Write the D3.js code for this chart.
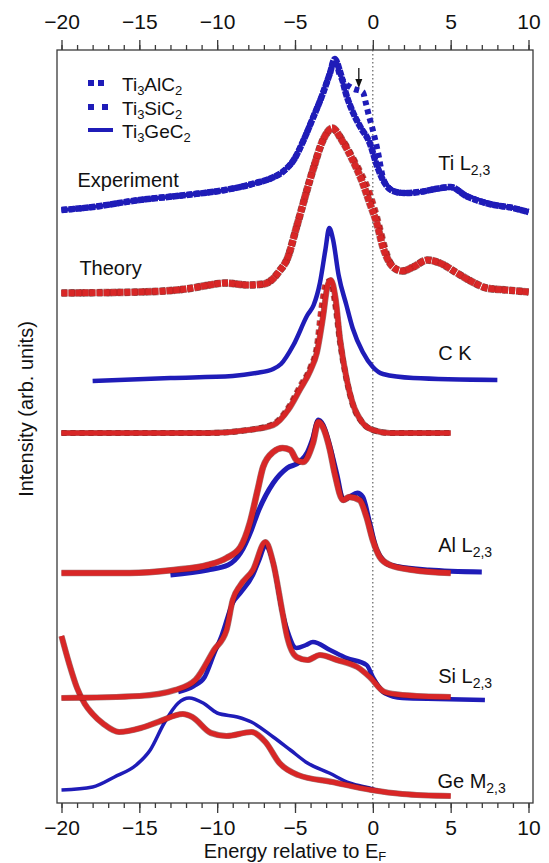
<!DOCTYPE html>
<html>
<head>
<meta charset="utf-8">
<script src="https://cdn.jsdelivr.net/npm/d3@7/dist/d3.min.js"></script>
<style>
body { margin: 0; background: #fff; }
text { font-family: "Liberation Sans", Arial, Helvetica, sans-serif; fill: #111; }
</style>
</head>
<body>
<div id="chart"></div>
<script>
let width = 549;
let height = 863;
let margin = ({top: 50, right: 16, bottom: 60, left: 57});
let pad = 4.5;   // gap between frame and the -20 / 10 ticks

let blue = "#1f1cb8";
let red = "#d82626";

let energyTicks = [-20, -15, -10, -5, 0, 5, 10];
let minorTicks = d3.range(-20, 11, 1);

// ---- Ti L2,3 experiment (blue), intensity above its own baseline
let tiExpOffset = 591;
let tiExpE  = [-20,-18,-15,-12,-9.5,-7.5,-6.5,-5.8,-5.0,-4.5,-3.9,-3.2,-2.75,-2.45,-2.1,-1.7,-1.2,-0.8,-0.2,0.25,0.65,1.3,2.0,3.0,4.0,5.0,6.0,7.5,9.0,10];
let tiExpAl = [2,5,12,17,22,29,34,40,54,70,92,119,139,153,140,117,97,85,69,47,32,21,19,20,23,25,16,8,4,0];
let tiExpGe = [2,5,12,17,22,29,34,40,55,71,94,120,140,150,138,118,98,86,70,48,33,22,19,20,22,24,17,9,4,0];
let tiExpSiE = [-20,-18,-15,-12,-9.5,-7.5,-6.5,-5.8,-5.0,-4.5,-3.9,-3.2,-2.75,-2.45,-2.1,-1.35,-0.65,-0.45,-0.25,-0.05,0.3,0.7,1.3,2.0,3.0,4.0,5.0,6.0,7.5,9.0,10];
let tiExpSi = [2,5,12,17,22,29,34,40,54,70,92,119,139,152,136,124,120,109,96,85,62,32,21,19,20,23,25,16,8,4,0];

// ---- Ti L2,3 theory (red)
let tiThOffset = 511;
let tiThE  = [-20,-15,-12,-10.5,-9.5,-8,-7,-6.5,-6,-5.5,-4.9,-3.85,-3.2,-2.6,-2.0,-1.3,-0.65,-0.2,0.25,0.65,1.3,1.9,2.6,3.5,4.3,5.4,6.4,7.3,8.6,10];
let tiThAl = [-1,0,3,7,9,7,8,12,21,33,65,122,152,164,152,132,109,89,69,45,25,21,25,32,29,19,10,4,2,0];
let tiThSiE = [-20,-15,-12,-10.5,-9.5,-8,-7,-6.5,-6,-5.5,-4.9,-3.85,-3.2,-2.6,-2.0,-1.3,-0.7,-0.35,0,0.4,0.8,1.3,1.9,2.6,3.5,4.3,5.4,6.4,7.3,8.6,10];
let tiThSi = [-1,0,3,7,9,7,8,12,21,33,65,122,152,163,153,134,116,104,88,66,42,25,21,25,32,29,19,10,4,2,0];

// ---- C K
let ckExpOffset = 423;
let ckExpE = [-18,-13,-9,-7.5,-6.4,-5.9,-5.1,-4.2,-3.8,-3.4,-3.05,-2.8,-2.55,-2.2,-1.7,-1.3,-0.65,0,0.65,2.6,8];
let ckExp  = [-1,2,4,7,11,16,35,65,75,97,130,152,140,105,75,52,28,13,6,2,0];
let ckThOffset = 370;
let ckThE  = [-20,-10.5,-8,-6.4,-5.4,-4.7,-4.0,-3.6,-3.2,-2.9,-2.7,-2.4,-2.1,-1.67,-1.3,-0.65,0,1.1,5];
let ckThAl = [0,0,3,8,24,43,63,80,116,148,153,135,93,53,30,10,3,0,0];
let ckThSiE = [-20,-10.5,-8,-6.4,-5.4,-4.7,-4.0,-3.6,-3.3,-3.0,-2.75,-2.45,-2.1,-1.67,-1.3,-0.65,0,1.1,5];
let ckThSi = [0,0,3,9,26,46,66,86,125,150,152,132,90,52,29,10,3,0,0];

// ---- Al L2,3
let alExpOffset = 231;
let alExpE = [-13,-10.6,-9.3,-8.5,-7.8,-7.4,-6.4,-5.5,-4.7,-4.2,-3.85,-3.5,-3.2,-2.75,-2.3,-1.9,-1.5,-1.0,-0.65,-0.2,0.25,1.1,3.6,7];
let alExp  = [-3,2,7,19,42,59,89,104,110,120,134,152,147,125,97,72,75,79,75,49,22,7,2,0];
let alThOffset = 230;
let alThE  = [-20,-15.6,-12.8,-10.6,-9.4,-8.5,-7.9,-7.4,-7.05,-6.4,-5.8,-5.3,-4.9,-4.5,-3.85,-3.5,-2.75,-2.45,-1.9,-1.5,-0.85,-0.4,0,0.45,1.1,2.6,5];
let alTh   = [0,0,3,8,15,26,50,83,106,121,125,123,113,111,130,151,123,100,73,76,73,56,33,16,8,3,0];

// ---- Si L2,3
let siExpOffset = 103;
let siExpE = [-12.5,-11.5,-10.8,-10.2,-9.7,-9.0,-8.5,-7.7,-7.3,-6.9,-6.4,-5.8,-5.5,-4.9,-4.3,-3.85,-2.75,-1.67,-0.4,0,0.75,1.9,4.2,7.2];
let siExp  = [8,14,23,46,65,97,107,125,140,154,137,87,70,52,55,58,50,42,35,23,7,2,1,0];
let siThOffset = 106;
let siThE  = [-20,-15,-12.7,-11.4,-10.2,-9.4,-9.0,-8.5,-7.7,-6.9,-6.4,-5.8,-5.5,-4.9,-4.2,-3.4,-2.3,-1.0,-0.2,0.75,1.9,5];
let siTh   = [-1,1,7,17,47,67,97,112,127,155,134,84,60,40,37,42,37,30,20,5,2,0];

// ---- Ge M2,3
let geExpOffset = 13;
let geExpE = [-20,-18,-16.6,-15.2,-14.3,-13.4,-12.5,-11.8,-10.9,-10.0,-8.7,-7.8,-6.4,-5.3,-4.2,-2.8,-1.5,0,0.4];
let geExp  = [0,3,13,25,40,67,87,92,87,77,73,68,53,40,27,17,7,1,-1];
let geThOffset = 7;
let geThE  = [-20,-19.5,-19,-18.5,-18,-17.3,-16.3,-14.9,-13.8,-12.2,-11.6,-10.4,-9.4,-7.8,-6.9,-6.0,-4.8,-2.6,-0.1,1.9,5];
let geTh   = [160,132,108,92,82,72,64,68,74,82,79,63,60,64,54,33,21,14,6,2,0];

let legendNames = [["Ti", "3", "AlC", "2"], ["Ti", "3", "SiC", "2"], ["Ti", "3", "GeC", "2"]];

// edge labels: [main, subscript, energy, intensity]
let edgeLabels = [
    ["Ti L", "2,3", 4.2, 633],
    ["C K", "", 4.2, 443],
    ["Al L", "2,3", 4.2, 251],
    ["Si L", "2,3", 4.2, 120],
    ["Ge M", "2,3", 4.15, 15]
];

let svg = d3.select("#chart")
    .append("svg")
    .attr("width", width)
    .attr("height", height);

let xScale = d3.scaleLinear()
    .domain([-20, 10])
    .range([margin.left + pad, width - margin.right - pad]);

let yScale = d3.scaleLinear()
    .domain([0, 753])
    .range([height - margin.bottom, margin.top]);

let x0 = margin.left, x1 = width - margin.right;
let yTop = margin.top, yBot = height - margin.bottom;

// frame
svg.append("rect")
    .attr("x", x0).attr("y", yTop)
    .attr("width", x1 - x0).attr("height", yBot - yTop)
    .attr("fill", "none").attr("stroke", "#3a3a3a").attr("stroke-width", 1.3);

// axes, top and bottom
function styleAxis(g) {
    g.select(".domain").remove();
    g.selectAll(".tick line").attr("stroke", "#3a3a3a").attr("stroke-width", 1.3);
    g.selectAll(".tick text").style("font-size", "21px").attr("fill", "#111");
}

svg.append("g")
    .attr("transform", "translate(0," + yBot + ")")
    .call(d3.axisBottom(xScale).tickValues(minorTicks).tickSize(5).tickFormat(""))
    .call(styleAxis);
svg.append("g")
    .attr("transform", "translate(0," + yBot + ")")
    .call(d3.axisBottom(xScale).tickValues(energyTicks).tickSize(10).tickPadding(7).tickFormat(d3.format("d")))
    .call(styleAxis);
svg.append("g")
    .attr("transform", "translate(0," + yTop + ")")
    .call(d3.axisTop(xScale).tickValues(minorTicks).tickSize(5).tickFormat(""))
    .call(styleAxis);
svg.append("g")
    .attr("transform", "translate(0," + yTop + ")")
    .call(d3.axisTop(xScale).tickValues(energyTicks).tickSize(10).tickPadding(11).tickFormat(d3.format("d")))
    .call(styleAxis);

// Fermi level
svg.append("line")
    .attr("x1", xScale(0)).attr("x2", xScale(0))
    .attr("y1", yTop).attr("y2", yBot)
    .attr("stroke", "#444").attr("stroke-width", 1)
    .attr("stroke-dasharray", "1.5,2.5");

// axis titles
let xTitle = svg.append("text")
    .attr("x", (x0 + x1) / 2)
    .attr("y", 858)
    .attr("text-anchor", "middle")
    .style("font-size", "20px");
xTitle.append("tspan").text("Energy relative to E");
xTitle.append("tspan").attr("dy", 3).style("font-size", "13px").text("F");

svg.append("text")
    .attr("transform", "translate(33," + 409 + ") rotate(-90)")
    .attr("text-anchor", "middle")
    .style("font-size", "20px")
    .text("Intensity (arb. units)");

// spectra
let line = d3.line()
    .x(d => xScale(d[0]))
    .y(d => yScale(d[1]))
    .curve(d3.curveMonotoneX);

function pts(es, vs, off) {
    return es.map((e, i) => [e, vs[i] + off]);
}

let series = [
    {d: pts(geExpE, geExp, geExpOffset), c: blue, w: 3.5},
    {d: pts(siExpE, siExp, siExpOffset), c: blue, w: 4.5},
    {d: pts(alExpE, alExp, alExpOffset), c: blue, w: 5},
    {d: pts(ckExpE, ckExp, ckExpOffset), c: blue, w: 4.5},
    {d: pts(tiExpE, tiExpGe, tiExpOffset), c: blue, w: 4},
    {d: pts(tiExpE, tiExpAl, tiExpOffset), c: blue, w: 6.5, dash: "6,1"},
    {d: pts(tiExpSiE, tiExpSi, tiExpOffset), c: blue, w: 6, dash: "5,4"},
    {d: pts(geThE, geTh, geThOffset), c: red, w: 5},
    {d: pts(siThE, siTh, siThOffset), c: red, w: 5},
    {d: pts(alThE, alTh, alThOffset), c: red, w: 5.5},
    {d: pts(ckThSiE, ckThSi, ckThOffset), c: red, w: 5, dash: "5,4"},
    {d: pts(ckThE, ckThAl, ckThOffset), c: red, w: 5},
    {d: pts(tiThSiE, tiThSi, tiThOffset), c: red, w: 6, dash: "5,4"},
    {d: pts(tiThE, tiThAl, tiThOffset), c: red, w: 6.5, dash: "6,1"}
];

series.forEach(function(s) {
    if (s.c === red) {
        // thin dark rim seen on the theory curves
        svg.append("path")
            .attr("d", line(s.d))
            .attr("fill", "none")
            .attr("stroke", "#5a1212")
            .attr("stroke-opacity", 0.55)
            .attr("stroke-width", s.w + 1.2)
            .attr("stroke-dasharray", s.dash || null);
    }
    svg.append("path")
        .attr("d", line(s.d))
        .attr("fill", "none")
        .attr("stroke", s.c)
        .attr("stroke-width", s.w)
        .attr("stroke-linejoin", "round")
        .attr("stroke-dasharray", s.dash || null);
});

// arrow at the Ti L shoulder
let ax = xScale(-0.9);
svg.append("line")
    .attr("x1", ax).attr("x2", ax)
    .attr("y1", yScale(735)).attr("y2", yScale(722))
    .attr("stroke", "#111").attr("stroke-width", 1.3);
svg.append("path")
    .attr("d", "M" + (ax - 3.5) + "," + yScale(724) + "L" + (ax + 3.5) + "," + yScale(724) + "L" + ax + "," + yScale(715) + "Z")
    .attr("fill", "#111");

// edge labels
edgeLabels.forEach(function(l) {
    let t = svg.append("text")
        .attr("x", xScale(l[2]))
        .attr("y", yScale(l[3]))
        .style("font-size", "20px");
    t.append("tspan").text(l[0]);
    if (l[1]) t.append("tspan").attr("dy", 5).style("font-size", "14px").text(l[1]);
});

svg.append("text")
    .attr("x", xScale(-18.97)).attr("y", yScale(616))
    .style("font-size", "20px").text("Experiment");
svg.append("text")
    .attr("x", xScale(-18.85)).attr("y", yScale(528))
    .style("font-size", "20px").text("Theory");

// legend
let legend = svg.append("g").attr("transform", "translate(88,0)");
let rowY = [83, 107, 130];
legend.append("rect").attr("x", 0).attr("y", rowY[0] - 3).attr("width", 6).attr("height", 6).attr("fill", blue);
legend.append("rect").attr("x", 10).attr("y", rowY[0] - 3).attr("width", 6).attr("height", 6).attr("fill", blue);
legend.append("rect").attr("x", 0).attr("y", rowY[1] - 3).attr("width", 6).attr("height", 6).attr("fill", blue);
legend.append("rect").attr("x", 14).attr("y", rowY[1] - 3).attr("width", 6).attr("height", 6).attr("fill", blue);
legend.append("line").attr("x1", 0).attr("x2", 25).attr("y1", rowY[2]).attr("y2", rowY[2])
    .attr("stroke", blue).attr("stroke-width", 4);

legendNames.forEach(function(n, i) {
    let t = legend.append("text")
        .attr("x", 34).attr("y", rowY[i] + 8)
        .style("font-size", "19px");
    t.append("tspan").text(n[0]);
    t.append("tspan").attr("dy", 4).style("font-size", "13px").text(n[1]);
    t.append("tspan").attr("dy", -4).text(n[2]);
    t.append("tspan").attr("dy", 4).style("font-size", "13px").text(n[3]);
});
</script>
</body>
</html>
